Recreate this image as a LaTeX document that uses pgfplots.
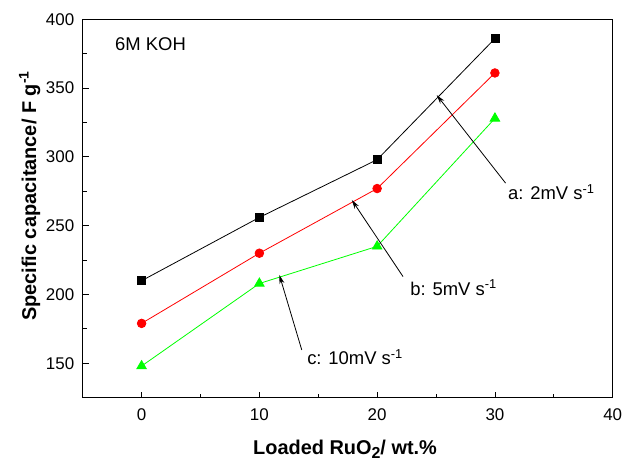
\documentclass[border=0pt]{standalone}
\usepackage{pgfplots}
\pgfplotsset{compat=1.18}
\usepackage{fontspec}
\setmainfont{Liberation Sans}
\usetikzlibrary{arrows.meta}
\begin{document}
\begin{tikzpicture}
\begin{axis}[
  name=ax,
  scale only axis, width=530bp, height=378.4bp,
  xmin=-5, xmax=40, ymin=125, ymax=400,
  xtick={0,10,20,30,40}, ytick={150,200,250,300,350,400},
  minor xtick={-5,5,15,25,35}, minor ytick={125,175,225,275,325,375},
  tick align=inside, xtick pos=bottom, ytick pos=left,
  major tick length=6bp, minor tick length=4bp,
  tick style={black, line width=0.8bp},
  axis line style={line width=1bp},
  every tick label/.append style={font=\fontsize{17}{20}\selectfont},
  /pgf/number format/assume math mode=true,
  yticklabel style={xshift=-5bp},
  xticklabel style={yshift=-7.5bp},
  clip=false,
]
\addplot[black, line width=0.8bp, mark=square*, mark size=4bp, mark options={solid}] coordinates {(0,210) (10,256) (20,298) (30,386)};
\addplot[red, line width=0.8bp, mark=*, mark size=4.3bp] coordinates {(0,179) (10,230) (20,277) (30,361)};
\addplot[green, line width=0.8bp, mark=triangle*, mark size=5.5bp] coordinates {(0,148) (10,208) (20,235) (30,328)};

\node[anchor=base west, inner sep=0, font=\fontsize{18.5}{20}\selectfont] at (axis cs:-2.26,377.2) {6M KOH};
\node[anchor=base west, inner sep=0, font=\fontsize{18.5}{20}\selectfont] at (axis cs:31.1,268.7) {a: 2mV s\textsuperscript{-1}};
\node[anchor=base west, inner sep=0, font=\fontsize{18.5}{20}\selectfont] at (axis cs:22.8,199.6) {b: 5mV s\textsuperscript{-1}};
\node[anchor=base west, inner sep=0, font=\fontsize{18.5}{20}\selectfont] at (axis cs:14.05,148.8) {c: 10mV s\textsuperscript{-1}};

\draw[-{Stealth[length=9bp,width=5bp]}, line width=0.8bp] (axis cs:30.9,281) -- (axis cs:25.06,344.9);
\draw[-{Stealth[length=9bp,width=5bp]}, line width=0.8bp] (axis cs:22.2,213) -- (axis cs:17.85,268.7);
\draw[-{Stealth[length=9bp,width=5bp]}, line width=0.8bp] (axis cs:13.6,159.7) -- (axis cs:11.7,214.2);

\node[anchor=base, inner sep=0, font=\fontsize{20}{22}\selectfont\bfseries] at (axis description cs:0.495,-0.1514) {Loaded RuO{\fontsize{16}{16}\selectfont\raisebox{-3.5bp}{2}}/ wt.\%};
\node[anchor=base, inner sep=0, rotate=90, font=\fontsize{20}{22}\selectfont\bfseries] at (axis description cs:-0.0881,0.533) {Specific capacitance/ F g\textsuperscript{-1}};
\end{axis}
\pgfresetboundingbox
\useasboundingbox ([xshift=-82.7bp,yshift=-65.3bp]ax.south west) rectangle ([xshift=11.3bp,yshift=19.3bp]ax.north east);
\end{tikzpicture}
\end{document}
